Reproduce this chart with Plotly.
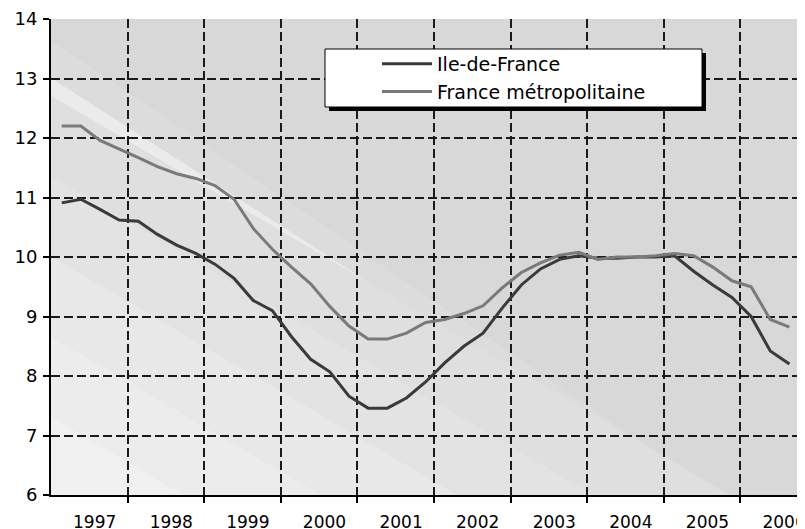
import plotly.graph_objects as go

# ---------------- data (quarterly, 1997 T1 -> 2006 T3) ----------------
years_q = [1997]*4 + [1998]*4 + [1999]*4 + [2000]*4 + [2001]*4 + [2002]*4 + \
          [2003]*4 + [2004]*4 + [2005]*4 + [2006]*3
quarter_q = [1, 2, 3, 4]*9 + [1, 2, 3]

idf = [10.91, 10.97, 10.80, 10.62, 10.60, 10.38, 10.20, 10.06, 9.88, 9.64,
       9.27, 9.10, 8.66, 8.28, 8.07, 7.66, 7.46, 7.46, 7.63, 7.90,
       8.22, 8.50, 8.72, 9.14, 9.53, 9.80, 9.96, 10.02, 9.98, 9.98,
       10.00, 10.00, 10.02, 9.76, 9.53, 9.32, 9.00, 8.42, 8.20]

france = [12.20, 12.20, 11.96, 11.82, 11.67, 11.52, 11.40, 11.32, 11.20, 10.97,
          10.48, 10.13, 9.83, 9.55, 9.17, 8.84, 8.62, 8.62, 8.72, 8.90,
          8.95, 9.05, 9.18, 9.48, 9.74, 9.90, 10.03, 10.08, 9.96, 10.00,
          10.00, 10.02, 10.06, 10.02, 9.83, 9.60, 9.50, 8.95, 8.82]

series_names = ["Ile-de-France", "France métropolitaine"]
year_labels = ["1997", "1998", "1999", "2000", "2001", "2002", "2003", "2004", "2005", "2006"]
y_ticks = [6, 7, 8, 9, 10, 11, 12, 13, 14]

# decimal date of each quarter (plotted in mid-quarter position)
x_dates = [y + (q - 1) * 0.25 + 0.14 for y, q in zip(years_q, quarter_q)]

# ---------------- figure geometry ----------------
OFF = 8                       # default page margin of the html body
SW, SH = 805, 529             # screen size
W, H = SW - OFF, SH - OFF     # figure size so that it exactly fills the window
# plot area on screen
SL, SR, ST, SB = 51, 805, 19, 495
L, R, T, B = SL - OFF, SR - OFF, ST - OFF, SB - OFF

fig = go.Figure()
fig.add_trace(go.Scatter(x=x_dates, y=idf, mode="lines", name=series_names[0],
                         line=dict(color="#3a3a3a", width=3)))
fig.add_trace(go.Scatter(x=x_dates, y=france, mode="lines", name=series_names[1],
                         line=dict(color="#7a7a7a", width=3)))


# ---------------- background (decoration), given in screen pixels ----------------
def to_paper(pt):
    return ((pt[0] - SL) / (SR - SL), (SB - pt[1]) / (SB - ST))


def clip(poly, p1, p2, keep_below):
    def f(p):
        return (p2[0] - p1[0]) * (p[1] - p1[1]) - (p2[1] - p1[1]) * (p[0] - p1[0])
    out = []
    n = len(poly)
    for i in range(n):
        a, b = poly[i], poly[(i + 1) % n]
        fa, fb = f(a), f(b)
        ina = fa >= 0 if keep_below else fa <= 0
        inb = fb >= 0 if keep_below else fb <= 0
        if ina:
            out.append(a)
        if ina != inb:
            t = fa / (fa - fb)
            out.append((a[0] + t * (b[0] - a[0]), a[1] + t * (b[1] - a[1])))
    return out


rect = [(SL, ST), (SR, ST), (SR, SB), (SL, SB)]
shapes = []


def add_poly(poly, color):
    if len(poly) < 3:
        return
    pts = [to_paper(p) for p in poly]
    path = "M " + " L ".join(f"{x:.5f},{y:.5f}" for x, y in pts) + " Z"
    shapes.append(dict(type="path", xref="paper", yref="paper", path=path,
                       fillcolor=color, line=dict(width=0), layer="below"))


add_poly(rect, "#d8d8d8")
up1, up2 = (SL, 78), (700, 495)
lo1, lo2 = (SL, 96), (730, 495)
add_poly(clip(clip(rect, (SL, 40), (675, 465), True), up1, up2, False), "#dcdcdc")
add_poly(clip(clip(rect, up1, up2, True), lo1, lo2, False), "#ebebeb")
steps = [(0, "#dfdfdf"), (80, "#e3e3e3"), (160, "#e8e8e8"), (240, "#ececec"), (320, "#f0f0f0")]
for i, (d, col) in enumerate(steps):
    poly = clip(rect, (lo1[0], lo1[1] + d), (lo2[0], lo2[1] + d), True)
    if i + 1 < len(steps):
        d2 = steps[i + 1][0]
        poly = clip(poly, (lo1[0], lo1[1] + d2), (lo2[0], lo2[1] + d2), False)
    add_poly(poly, col)

# legend frame with shadow
lx0, lx1, ly0, ly1 = 325, 702, 49, 107
shapes.append(dict(type="rect", xref="paper", yref="paper",
                   x0=to_paper((lx0 + 4, 0))[0], x1=to_paper((lx1 + 4, 0))[0],
                   y0=to_paper((0, ly1 + 4))[1], y1=to_paper((0, ly0 + 4))[1],
                   fillcolor="black", line=dict(width=0), layer="above"))
shapes.append(dict(type="rect", xref="paper", yref="paper",
                   x0=to_paper((lx0, 0))[0], x1=to_paper((lx1, 0))[0],
                   y0=to_paper((0, ly1))[1], y1=to_paper((0, ly0))[1],
                   fillcolor="white", line=dict(color="black", width=1), layer="above"))

font = "DejaVu Sans, Arial, sans-serif"
grid_dash = "9px,4px"

fig.update_layout(
    width=W, height=H,
    margin=dict(l=L, r=W - R, t=T, b=H - B, autoexpand=False),
    paper_bgcolor="white",
    plot_bgcolor="rgba(0,0,0,0)",
    shapes=shapes,
    font=dict(family=font, size=17, color="black"),
    showlegend=True,
    legend=dict(x=to_paper((377, 0))[0], y=to_paper((0, 45))[1],
                xanchor="left", yanchor="top",
                bgcolor="rgba(0,0,0,0)", borderwidth=0,
                font=dict(family=font, size=19, color="black"),
                itemwidth=50, tracegroupgap=0),
    xaxis=dict(
        range=[1997.0, 1997.0 + (SR - SL) / 76.6],
        automargin=False,
        tickmode="array",
        tickvals=[int(y) + 0.57 for y in year_labels],
        ticktext=year_labels,
        ticklabeloverflow="allow",
        ticks="", showgrid=False, zeroline=False,
        showline=True, linecolor="black", linewidth=2,
        ticklabelstandoff=11,
        tickfont=dict(family=font, size=17, color="black"),
        minor=dict(tickmode="array",
                   tickvals=[int(y) + 1 for y in year_labels[:-1]],
                   showgrid=True, gridcolor="#1a1a1a", gridwidth=2, griddash=grid_dash,
                   ticks="outside", ticklen=6, tickwidth=2, tickcolor="black"),
        fixedrange=True,
    ),
    yaxis=dict(
        range=[6, 14],
        automargin=False,
        tickmode="array", tickvals=y_ticks, ticktext=[str(v) for v in y_ticks],
        ticklabeloverflow="allow",
        showgrid=True, gridcolor="#1a1a1a", gridwidth=2, griddash=grid_dash,
        zeroline=False,
        showline=True, linecolor="black", linewidth=2,
        ticks="outside", ticklen=6, tickwidth=2, tickcolor="black",
        ticklabelstandoff=2,
        tickfont=dict(family=font, size=18, color="black"),
        fixedrange=True,
    ),
)

fig.write_html("out.html")
